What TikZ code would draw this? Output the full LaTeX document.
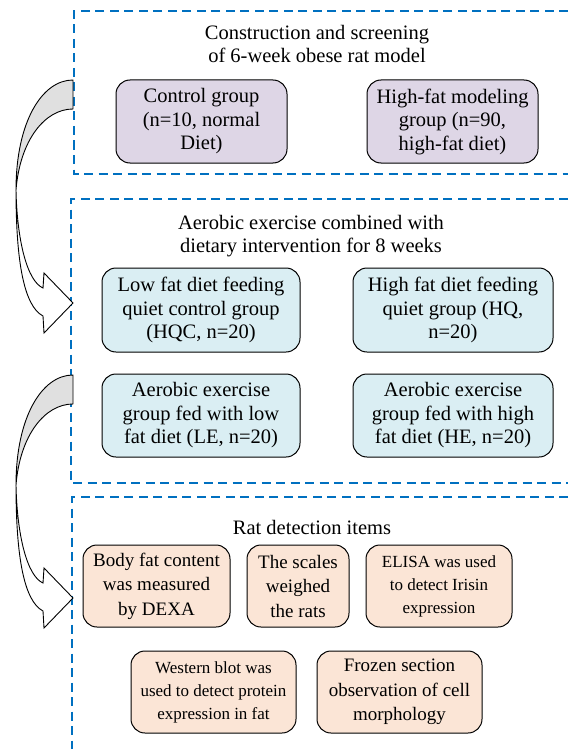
\documentclass[tikz,border=0pt]{standalone}
\usepackage{fontspec}
\setmainfont{Liberation Serif}
\usepackage{xcolor}
\usetikzlibrary{positioning}

\definecolor{frameblue}{RGB}{0,112,192}
\definecolor{groupviolet}{RGB}{222,214,230}
\definecolor{groupblue}{RGB}{218,238,243}
\definecolor{grouppeach}{RGB}{251,229,214}
\definecolor{arrowgray}{RGB}{224,224,224}

\begin{document}
\begin{tikzpicture}[
  x=1pt, y=-1pt,
  stage/.style={
    draw=frameblue, line width=1.3pt,
    dash pattern=on 9pt off 5.5pt
  },
  title/.style={align=center, font=\rmfamily\fontsize{20.5}{23.5}\selectfont},
  group/.style={
    draw=black, line width=1pt, rounded corners=14pt,
    align=center, inner sep=0pt,
    font=\rmfamily\fontsize{20.5}{23.5}\selectfont
  },
  item/.style={group, fill=grouppeach, minimum height=82pt,
    font=\rmfamily\fontsize{19}{24.5}\selectfont},
  smallitem/.style={item, font=\rmfamily\fontsize{17}{23}\selectfont},
  backface/.style={draw=black, line width=0.9pt, fill=arrowgray, line join=round},
  frontface/.style={draw=black, line width=0.9pt, fill=white, line join=miter}
]
\useasboundingbox (0,0) rectangle (568,749);

% ---- Stage frames (open to the right) ----
\coordinate (S1) at (74,11);
\coordinate (S2) at (71,199);
\coordinate (S3) at (72,497);
\draw[stage] (S1) ++(494,0) -| (74,174) -- ++(494,0);
\draw[stage] (S2) ++(497,0) -| (71,483) -- ++(497,0);
\draw[stage] (S3) ++(496,0) -| (72,749);

% ---- Stage 1: model construction ----
\node[title] (T1) at (317,44)
  {Construction and screening\\of 6-week obese rat model};
\node[group, fill=groupviolet, minimum width=171pt, minimum height=83pt]
  (CG) at (201.5,121.5) {Control group\\(n=10, normal\\Diet)};
\node[group, fill=groupviolet, minimum width=171pt, minimum height=83pt]
  (HF) at (452.5,121.5) {High-fat modeling\\group (n=90,\\high-fat diet)};

% ---- Stage 2: intervention ----
\node[title] (T2) at (311,236)
  {Aerobic exercise combined with\\dietary intervention for 8 weeks};
\node[group, fill=groupblue, minimum width=198pt, minimum height=84pt]
  (HQC) at (201,310) {Low fat diet feeding\\quiet control group\\(HQC, n=20)};
\node[group, fill=groupblue, minimum width=200pt, minimum height=84pt]
  (HQ) at (453,310) {High fat diet feeding\\quiet group (HQ,\\n=20)};
\node[group, fill=groupblue, minimum width=198pt, minimum height=83pt]
  (LE) at (201,415.5) {Aerobic exercise\\group fed with low\\fat diet (LE, n=20)};
\node[group, fill=groupblue, minimum width=200pt, minimum height=83pt]
  (HE) at (453,415.5) {Aerobic exercise\\group fed with high\\fat diet (HE, n=20)};

% ---- Stage 3: detection items ----
\node[title] (T3) at (312,527) {Rat detection items};
\node[item, minimum width=147pt] (DEXA) at (156.5,586)
  {Body fat content\\was measured\\by DEXA};
\node[item, minimum width=102pt] (SCL) at (298,586)
  {The scales\\weighed\\the rats};
\node[smallitem, minimum width=146pt] (ELISA) at (439,586)
  {ELISA was used\\to detect Irisin\\expression};
\node[smallitem, minimum width=165pt] (WB) at (213.5,692)
  {Western blot was\\used to detect protein\\expression in fat};
\node[item, minimum width=165pt] (FS) at (399.5,692)
  {Frozen section\\observation of cell\\morphology};

% ---- Curved block arrows between stages ----
\foreach \dy in {0,295}{
  \begin{scope}[yshift=-\dy pt]
    \draw[backface] (73,80) .. controls (42,80) and (16,122) .. (16,190)
      .. controls (20,140) and (45,109) .. (73,109) -- cycle;
    \draw[frontface] (16,190) .. controls (17,240) and (27,281) .. (43,288)
      -- (44,273) -- (73,303) -- (44,333) -- (43,316)
      .. controls (24,306) and (16,262) .. (16,190) -- cycle;
  \end{scope}
}

\end{tikzpicture}
\end{document}
